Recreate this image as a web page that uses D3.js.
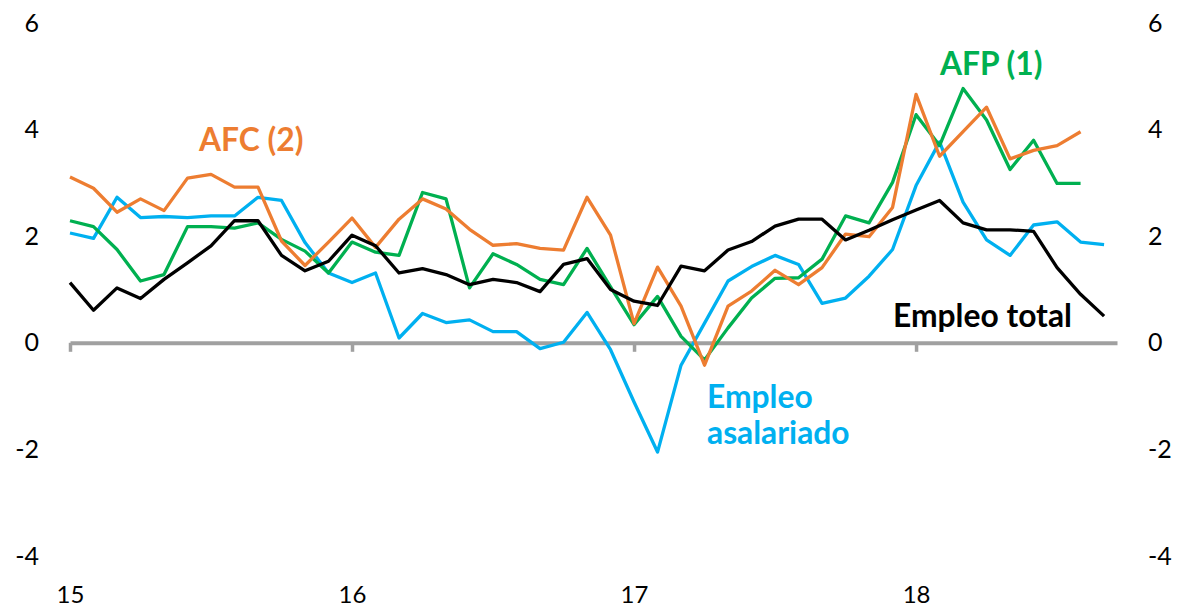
<!DOCTYPE html>
<html><head><meta charset="utf-8">
<script src="https://cdn.jsdelivr.net/npm/d3@7"></script>
<style>body{margin:0;background:#fff} svg{display:block}</style>
</head><body><svg id="c" width="1182" height="610"></svg>
<script>
// ---- data (monthly, Jan 2015 = index 0) ----
const yearLabels = ["15","16","17","18"];
const yearTickMonths = [0,12,24,36];
const yTicks = [-4,-2,0,2,4,6];

const empleoTotal = [1.13,0.61,1.03,0.83,1.19,1.50,1.82,2.29,2.29,1.64,1.35,1.53,
  2.02,1.82,1.31,1.39,1.28,1.09,1.19,1.13,0.96,1.47,1.58,1.00,
  0.78,0.70,1.44,1.35,1.74,1.90,2.19,2.32,2.32,1.93,2.11,2.31,
  2.49,2.67,2.25,2.12,2.12,2.09,1.41,0.91,0.50];
const empleoAsalariado = [2.06,1.96,2.73,2.35,2.37,2.35,2.38,2.38,2.73,2.67,1.88,1.31,
  1.13,1.31,0.09,0.55,0.38,0.43,0.21,0.21,-0.11,0.01,0.57,-0.13,
  -1.11,-2.05,-0.42,0.37,1.16,1.43,1.64,1.47,0.74,0.84,1.25,1.75,
  2.95,3.77,2.64,1.93,1.64,2.21,2.27,1.89,1.84];
const afp = [2.29,2.18,1.75,1.16,1.28,2.18,2.18,2.15,2.25,1.94,1.72,1.31,
  1.89,1.70,1.64,2.82,2.70,1.03,1.67,1.47,1.19,1.09,1.77,1.05,
  0.34,0.87,0.12,-0.32,0.28,0.84,1.21,1.22,1.57,2.38,2.25,3.01,
  4.28,3.70,4.77,4.18,3.25,3.80,2.99,2.99];
const afc = [3.11,2.90,2.45,2.70,2.48,3.09,3.16,2.92,2.92,1.91,1.45,1.89,
  2.34,1.79,2.32,2.70,2.51,2.13,1.83,1.86,1.77,1.74,2.73,2.02,
  0.36,1.42,0.69,-0.42,0.69,0.97,1.36,1.09,1.41,2.04,1.99,2.54,
  4.66,3.50,3.96,4.42,3.45,3.61,3.70,3.96];

const seriesNames = ["Empleo asalariado","AFP (1)","AFC (2)","Empleo total"];
const seriesColors = ["#00B0F0","#00B050","#ED7D31","#000000"];
const seriesData = [empleoAsalariado, afp, afc, empleoTotal];

// ---- layout ----
const svg = d3.select("#c");
const x = d3.scaleLinear().domain([0,44.55]).range([70,1117]);
const y = d3.scaleLinear().domain([-4,6]).range([556,23]);
const tickFont = "Lato, 'Open Sans', sans-serif";
const fmt = d => String(d);

// x axis at y=0
const xAxis = d3.axisBottom(x).tickValues(yearTickMonths).tickFormat("").tickSize(9).tickSizeOuter(0);
const gx = svg.append("g").attr("transform",`translate(0,${y(0)})`).call(xAxis);
gx.select(".domain").attr("stroke","#A0A0A0").attr("stroke-width",4);
gx.selectAll(".tick line").attr("stroke","#A0A0A0").attr("stroke-width",3.5);

// bottom year labels
const xLab = d3.axisBottom(x).tickValues(yearTickMonths)
  .tickFormat((d,i)=>yearLabels[i]).tickSize(0).tickPadding(0);
const gxl = svg.append("g").attr("transform","translate(0,586)").call(xLab);
gxl.select(".domain").remove();
gxl.selectAll("text").attr("font-family",tickFont).attr("font-size",24).attr("fill","#000");

// left & right y labels
const yl = d3.axisLeft(y).tickValues(yTicks).tickFormat(fmt).tickSize(0).tickPadding(0);
const gyl = svg.append("g").attr("transform","translate(39,0)").call(yl);
gyl.select(".domain").remove();
gyl.selectAll("text").attr("font-family",tickFont).attr("font-size",25).attr("fill","#000");
const yr = d3.axisRight(y).tickValues(yTicks).tickFormat(fmt).tickSize(0).tickPadding(0);
const gyr = svg.append("g").attr("transform","translate(1148,0)").call(yr);
gyr.select(".domain").remove();
gyr.selectAll("text").attr("font-family",tickFont).attr("font-size",25).attr("fill","#000");

// lines
const line = d3.line().x((d,i)=>x(i)).y(d=>y(d));
svg.append("g").selectAll("path").data(seriesData).join("path")
  .attr("d",line).attr("fill","none")
  .attr("stroke",(d,i)=>seriesColors[i])
  .attr("stroke-width",3.3).attr("stroke-linejoin","round").attr("stroke-linecap","butt");

// annotations
const annFont = "Lato, 'Open Sans', sans-serif";
const probe = svg.append("text").attr("font-family",annFont).attr("font-weight","bold")
  .attr("font-size",30).text("Empleo total");
const annSize = 30*179/probe.node().getComputedTextLength();
probe.remove();

const annotations = [
  {text:"AFC (2)", x:199, y:151, c:seriesColors[2]},
  {text:"AFP (1)", x:940, y:75, c:seriesColors[1]},
  {text:"Empleo total", x:893, y:327, c:seriesColors[3]},
  {text:"Empleo", x:707, y:408, c:seriesColors[0]},
  {text:"asalariado", x:707, y:444, c:seriesColors[0]}
];
svg.append("g").selectAll("text").data(annotations).join("text")
  .attr("x",d=>d.x).attr("y",d=>d.y).attr("fill",d=>d.c)
  .attr("font-family",annFont).attr("font-weight","bold").attr("font-size",annSize)
  .text(d=>d.text);
</script></body></html>
